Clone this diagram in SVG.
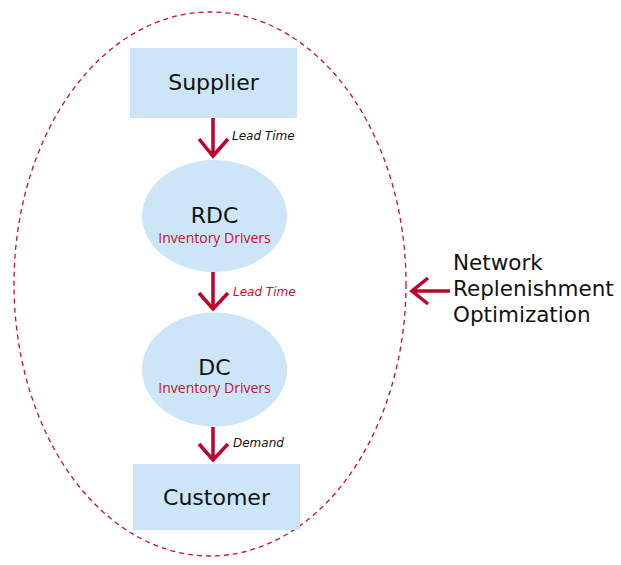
<svg xmlns="http://www.w3.org/2000/svg" width="621" height="565" viewBox="0 0 621 565">
  <style>
    .box { fill: #CCE6F7; }
    .title { font-family: "DejaVu Sans", sans-serif; font-size: 22px; fill: #111; text-anchor: middle; }
    .sub { font-family: "Open Sans", "Liberation Sans", sans-serif; font-size: 14px; fill: #C8102E; text-anchor: middle; }
    .lbl { font-family: "DejaVu Sans", sans-serif; font-size: 12px; font-style: italic; }
    .wire { stroke: #C0002A; stroke-width: 3.5; fill: none; }
    .side { font-family: "DejaVu Sans", sans-serif; font-size: 21.5px; fill: #111; }
  </style>

  <!-- boundary of the optimized network -->
  <ellipse cx="210" cy="284" rx="196" ry="272" fill="none" stroke="#C8102E" stroke-width="1.3" stroke-dasharray="5,4"/>

  <g id="supplier">
    <rect class="box" x="130" y="48" width="167" height="70"/>
    <text class="title" x="213.5" y="90">Supplier</text>
  </g>

  <g id="rdc">
    <ellipse class="box" cx="214.5" cy="216" rx="72.5" ry="56"/>
    <text class="title" x="214.5" y="223">RDC</text>
    <text class="sub" x="214.5" y="243">Inventory Drivers</text>
  </g>

  <g id="dc">
    <ellipse class="box" cx="214.5" cy="369.5" rx="72.5" ry="57"/>
    <text class="title" x="214.5" y="375">DC</text>
    <text class="sub" x="214.5" y="393">Inventory Drivers</text>
  </g>

  <g id="customer">
    <rect class="box" x="133" y="464" width="167" height="66"/>
    <text class="title" x="216.5" y="505">Customer</text>
  </g>

  <g id="connectors">
    <path class="wire" d="M213 118 V157 M199 139 L213 156 L228 139"/>
    <text class="lbl" x="232" y="140" fill="#111">Lead Time</text>

    <path class="wire" d="M213 272 V310 M199 293 L213 309 L228 293"/>
    <text class="lbl" x="233" y="296" fill="#C8102E">Lead Time</text>

    <path class="wire" d="M213 427 V461 M199 444 L213 460 L228 444"/>
    <text class="lbl" x="233" y="447" fill="#111">Demand</text>

    <path class="wire" d="M450 291 H412 M428 278 L412 291 L428 304"/>
  </g>

  <g id="scope-label">
    <text class="side" x="453" y="270">Network</text>
    <text class="side" x="453" y="296">Replenishment</text>
    <text class="side" x="453" y="322">Optimization</text>
  </g>
</svg>
